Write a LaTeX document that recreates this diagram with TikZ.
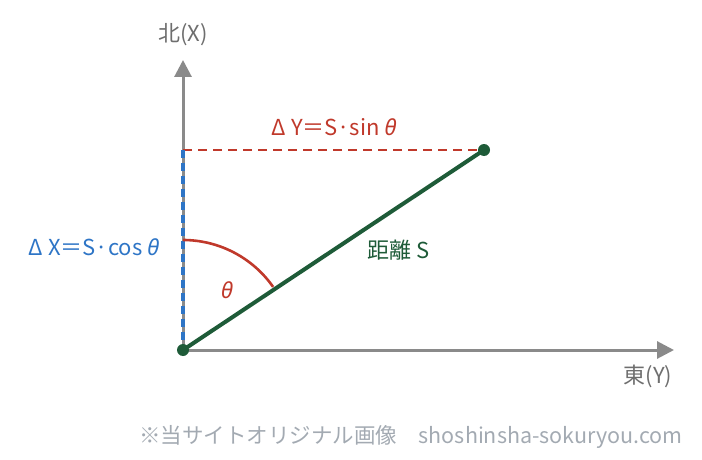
\documentclass[tikz,border=0pt]{standalone}
\usepackage{fontspec}
\setmainfont{Noto Sans CJK JP}
\newfontfamily\greekfont{Noto Sans}
\usetikzlibrary{arrows.meta,positioning}
\definecolor{axisgray}{HTML}{8A8A8A}
\definecolor{sinred}{HTML}{C0392B}
\definecolor{cosblue}{HTML}{2E75C6}
\definecolor{distgreen}{HTML}{1E5B38}
\definecolor{notegray}{HTML}{A3AAB2}
\newcommand{\thetaglyph}{{\greekfont\itshape θ}}
\tikzset{
  axis/.style={axisgray,line width=3pt},
  sinline/.style={sinred,line width=2.6pt,dash pattern=on 9pt off 6pt},
  cosline/.style={cosblue,line width=4pt,dash pattern=on 8pt off 5pt},
  distline/.style={distgreen,line width=4pt},
  dot/.style={circle,fill=distgreen,inner sep=0pt,minimum size=12pt}
}
\begin{document}
\begin{tikzpicture}[x=1pt,y=1pt,>={Triangle[length=17pt,width=17pt]},
    font=\fontsize{22}{26}\selectfont]
        \useasboundingbox (0,0) rectangle (702,459);

        % the points of the picture
        \coordinate (O) at (183,109);
        \coordinate (Q) at (183,309);
        \coordinate (N) at (183,399);
        \coordinate (E) at (674,109);
        \coordinate (P) at (484,309);

        % draw the coordinates
        \draw[axis,->] (O) -- (N);
        \draw[axis,->] (O) -- (E);
        \node[axisgray!80!black] (north) at (183,424) {北(X)};
        \node[axisgray!80!black] (east) at (648,83) {東(Y)};

        % the two components
        \draw[sinline] (Q) -- (P);
        \draw[cosline] (Q) -- (O);
        \node[sinred] (dy) at (334,332) {Δ Y＝S·sin \thetaglyph};
        \node[cosblue] (dx) at (94,212) {Δ X＝S·cos \thetaglyph};

        % the angle
        \draw[sinred,line width=2.6pt] ([shift={(90:110)}]O) arc[start angle=90,end angle=35,radius=110];
        \node[sinred] (theta) at (227,169) {\thetaglyph};

        % the distance
        \draw[distline] (O) -- (P);
        \node[dot] (Odot) at (O) {};
        \node[dot] (Pdot) at (P) {};
        \node[distgreen] (dist) at (399,209) {距離 S};

        % note at the foot
        \node[notegray,font=\fontsize{21.5}{25}\selectfont] (note) at (411,22) {※当サイトオリジナル画像　shoshinsha-sokuryou.com};
\end{tikzpicture}
\end{document}
